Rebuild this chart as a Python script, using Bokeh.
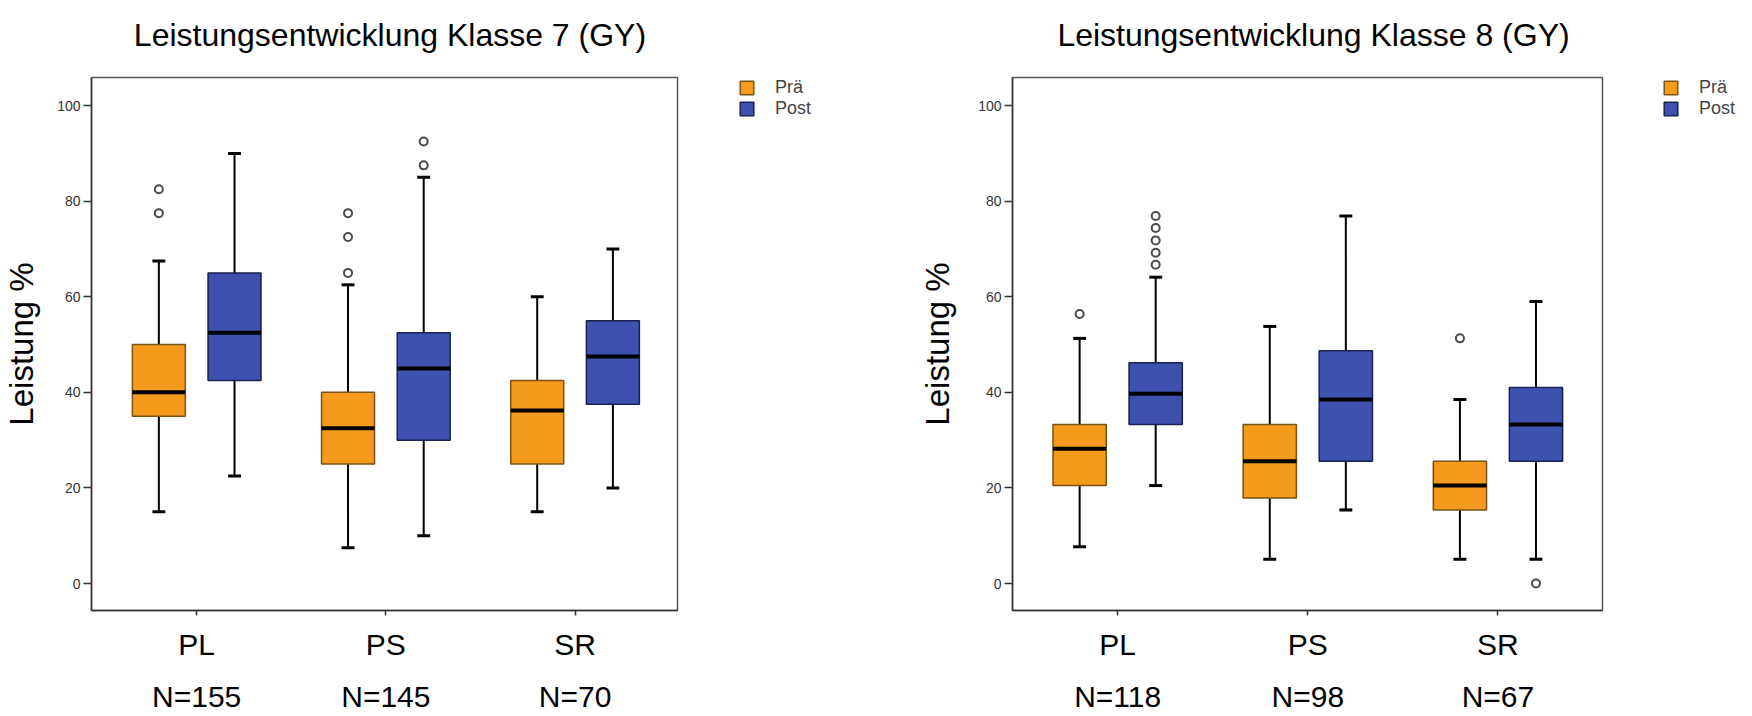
import numpy as np
from bokeh.plotting import figure
from bokeh.models import Range1d, FixedTicker, Legend, LegendItem, LinearAxis
from bokeh.layouts import row
from bokeh.embed import file_html
from bokeh.resources import INLINE

categories = ["PL", "PS", "SR"]
groups = ["Prä", "Post"]
titles = ["Leistungsentwicklung Klasse 7 (GY)", "Leistungsentwicklung Klasse 8 (GY)"]
y_title = "Leistung %"
y_ticks = [0, 20, 40, 60, 80, 100]

# Klasse 7
n7 = ["N=155", "N=145", "N=70"]
k7_pre_lo = [15, 7.5, 15]
k7_pre_q1 = [35, 25, 25]
k7_pre_med = [40, 32.5, 36.2]
k7_pre_q3 = [50, 40, 42.5]
k7_pre_hi = [67.5, 62.5, 60]
k7_post_lo = [22.5, 10, 20]
k7_post_q1 = [42.5, 30, 37.5]
k7_post_med = [52.5, 45, 47.5]
k7_post_q3 = [65, 52.5, 55]
k7_post_hi = [90, 85, 70]
k7_pre_out_cat = ["PL", "PL", "PS", "PS", "PS"]
k7_pre_out_val = [82.5, 77.5, 77.5, 72.5, 65]
k7_post_out_cat = ["PS", "PS"]
k7_post_out_val = [92.5, 87.5]

# Klasse 8
n8 = ["N=118", "N=98", "N=67"]
k8_pre_lo = [7.7, 5.1, 5.1]
k8_pre_q1 = [20.5, 17.9, 15.4]
k8_pre_med = [28.2, 25.6, 20.5]
k8_pre_q3 = [33.3, 33.3, 25.6]
k8_pre_hi = [51.3, 53.8, 38.5]
k8_post_lo = [20.5, 15.4, 5.1]
k8_post_q1 = [33.3, 25.6, 25.6]
k8_post_med = [39.7, 38.5, 33.3]
k8_post_q3 = [46.2, 48.7, 41.0]
k8_post_hi = [64.1, 76.9, 59.0]
k8_pre_out_cat = ["PL", "SR"]
k8_pre_out_val = [56.4, 51.3]
k8_post_out_cat = ["PL", "PL", "PL", "PL", "PL", "SR"]
k8_post_out_val = [76.9, 74.4, 71.8, 69.2, 66.7, 0.0]

ORANGE = "#F49A1C"
BLUE = "#3F51AF"
ORANGE_EDGE = "#7A5216"
BLUE_EDGE = "#1B2150"
FONT = "Liberation Sans"

OFFSET = 0.2
BOX_W = 0.28
CAP_W = 0.068
H = 716
PX_PER_UNIT = 190.15


def draw_group(p, offset, lo, q1, med, q3, hi, out_cat, out_val, fill, edge):
    x = np.arange(1, len(categories) + 1, dtype=float) + offset
    lo, q1, med, q3, hi = (np.array(v, dtype=float) for v in (lo, q1, med, q3, hi))
    p.segment(x0=x, x1=x, y0=q3, y1=hi, line_color="black", line_width=2)
    p.segment(x0=x, x1=x, y0=lo, y1=q1, line_color="black", line_width=2)
    p.segment(x0=x - CAP_W / 2, x1=x + CAP_W / 2, y0=hi, y1=hi, line_color="black", line_width=3)
    p.segment(x0=x - CAP_W / 2, x1=x + CAP_W / 2, y0=lo, y1=lo, line_color="black", line_width=3)
    p.vbar(x=x, width=BOX_W, bottom=q1, top=q3, fill_color=fill,
           line_color=edge, line_width=1.5)
    p.segment(x0=x - BOX_W / 2, x1=x + BOX_W / 2, y0=med, y1=med, line_color="black", line_width=4)
    ox = [categories.index(c) + 1 + offset for c in out_cat]
    p.scatter(x=ox, y=out_val, marker="circle", size=8, fill_color="white",
              line_color="#4a4a4a", line_width=2)


def make_panel(title, ns, pre, post, pre_out, post_out, b_left, frame_w, x0,
               ylab_standoff, title_px):
    b_right = 3
    p = figure(width=b_left + frame_w + b_right, height=H,
               x_range=Range1d(x0, x0 + frame_w / PX_PER_UNIT),
               y_range=Range1d(-5.64, 105.88),
               output_backend="svg", toolbar_location=None,
               min_border_left=b_left, min_border_right=b_right,
               min_border_top=66, min_border_bottom=106)
    p.xgrid.visible = False
    p.ygrid.visible = False
    p.background_fill_color = "white"
    p.border_fill_color = "white"
    p.outline_line_color = "#555555"
    p.outline_line_width = 1.5
    # the built-in (empty) title must not take any room
    p.title.text = ""
    p.title.text_font_size = "0px"
    p.title.standoff = 0
    p.title.visible = False

    tick_pos = [1, 2, 3]
    xa = p.xaxis[0]
    xa.ticker = FixedTicker(ticks=tick_pos)
    xa.major_label_overrides = {t: c for t, c in zip(tick_pos, categories)}
    xa.major_label_text_font = FONT
    xa.major_label_text_font_size = "30px"
    xa.major_label_text_color = "black"
    xa.major_label_standoff = 12
    xa.major_tick_out = 5
    xa.major_tick_in = 0
    xa.minor_tick_line_color = None
    xa.axis_line_color = "#333333"
    xa.axis_line_width = 1.5
    xa.major_tick_line_color = "#333333"
    xa.major_tick_line_width = 1.5

    ya = p.yaxis[0]
    ya.ticker = FixedTicker(ticks=y_ticks)
    ya.major_label_text_font = FONT
    ya.major_label_text_font_size = "14px"
    ya.major_label_text_color = "#333333"
    ya.major_label_standoff = 3
    ya.major_tick_out = 8
    ya.major_tick_in = 0
    ya.minor_tick_line_color = None
    ya.axis_line_color = "#333333"
    ya.axis_line_width = 1.5
    ya.major_tick_line_color = "#333333"
    ya.major_tick_line_width = 1.5
    ya.axis_label = y_title
    ya.axis_label_text_font = FONT
    ya.axis_label_text_font_size = "33px"
    ya.axis_label_text_font_style = "normal"
    ya.axis_label_text_color = "black"
    ya.axis_label_standoff = ylab_standoff

    n_axis = LinearAxis(ticker=FixedTicker(ticks=tick_pos),
                        major_label_overrides={t: n for t, n in zip(tick_pos, ns)},
                        major_label_text_font=FONT, major_label_text_font_size="30px",
                        major_label_text_color="black", major_label_standoff=16,
                        major_tick_out=0, major_tick_in=0,
                        major_tick_line_color=None, minor_tick_line_color=None,
                        axis_line_color=None)
    p.add_layout(n_axis, "below")

    # chart title, written as the single label of a bare axis above the frame
    title_x = x0 + (title_px - b_left) / PX_PER_UNIT
    t_axis = LinearAxis(ticker=FixedTicker(ticks=[title_x]),
                        major_label_overrides={title_x: title},
                        major_label_text_font=FONT, major_label_text_font_size="32px",
                        major_label_text_color="black", major_label_standoff=25,
                        major_tick_out=0, major_tick_in=0,
                        major_tick_line_color=None, minor_tick_line_color=None,
                        axis_line_color=None)
    p.add_layout(t_axis, "above")

    draw_group(p, -OFFSET, *pre, *pre_out, ORANGE, ORANGE_EDGE)
    draw_group(p, OFFSET, *post, *post_out, BLUE, BLUE_EDGE)
    return p


def make_legend(width, left, top, pre, post):
    # legend panel; its two (hidden) box renderers carry the real box data
    lg = figure(width=width, height=H, x_range=Range1d(10, 11), y_range=Range1d(0, 100),
                x_axis_type=None, y_axis_type=None, output_backend="svg",
                toolbar_location=None, min_border_left=left, min_border_top=top,
                min_border_right=0, min_border_bottom=0)
    lg.outline_line_color = None
    lg.background_fill_color = "white"
    lg.border_fill_color = "white"
    base = np.arange(1, len(categories) + 1, dtype=float)
    r1 = lg.vbar(x=base - OFFSET, bottom=pre[1], top=pre[3], width=BOX_W,
                 fill_color=ORANGE, line_color=ORANGE_EDGE, line_width=1.5)
    r2 = lg.vbar(x=base + OFFSET, bottom=post[1], top=post[3], width=BOX_W,
                 fill_color=BLUE, line_color=BLUE_EDGE, line_width=1.5)
    r1.visible = False
    r2.visible = False
    legend = Legend(items=[LegendItem(label=groups[0], renderers=[r1]),
                           LegendItem(label=groups[1], renderers=[r2])],
                    location="top_left",
                    glyph_width=17, glyph_height=17, label_standoff=20,
                    label_text_font=FONT, label_text_font_size="18px",
                    label_height=17, spacing=0, padding=0, margin=0,
                    inactive_fill_alpha=0,
                    border_line_alpha=0, background_fill_alpha=0)
    lg.add_layout(legend, "center")
    return lg


k7_pre = (k7_pre_lo, k7_pre_q1, k7_pre_med, k7_pre_q3, k7_pre_hi)
k7_post = (k7_post_lo, k7_post_q1, k7_post_med, k7_post_q3, k7_post_hi)
k8_pre = (k8_pre_lo, k8_pre_q1, k8_pre_med, k8_pre_q3, k8_pre_hi)
k8_post = (k8_post_lo, k8_post_q1, k8_post_med, k8_post_q3, k8_post_hi)

p7 = make_panel(titles[0], n7, k7_pre, k7_post,
                (k7_pre_out_cat, k7_pre_out_val), (k7_post_out_cat, k7_post_out_val),
                88, 589, 0.444, 14, 388)
p8 = make_panel(titles[1], n8, k8_pre, k8_post,
                (k8_pre_out_cat, k8_pre_out_val), (k8_post_out_cat, k8_post_out_val),
                136, 590, 0.447, 19, 1313 - 876)
w7 = 876 - p7.width
w8 = 1752 - 876 - p8.width
leg7 = make_legend(w7, 738 - p7.width, 77, k7_pre, k7_post)
leg8 = make_legend(w8, 1662 - 876 - p8.width, 75, k8_pre, k8_post)

layout = row(p7, leg7, p8, leg8)
open("out.html", "w").write(file_html(layout, INLINE))
